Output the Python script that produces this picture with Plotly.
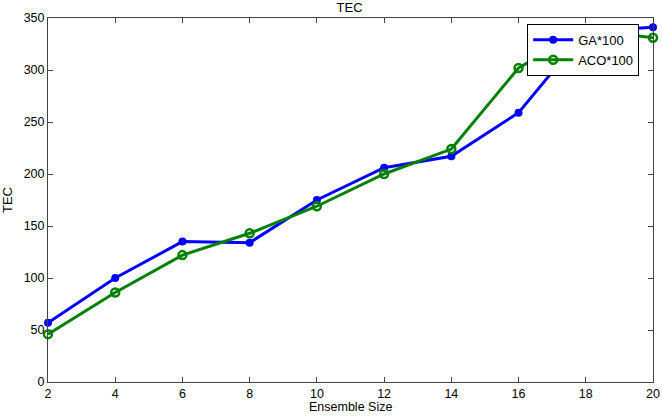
import plotly.graph_objects as go

ensemble_size = [2, 4, 6, 8, 10, 12, 14, 16, 18, 20]
ga_tec = [57, 100, 135, 134, 175, 206, 217, 259, 337, 341]
aco_tec = [46, 86, 122, 143, 169, 200, 224, 302, 339, 331]

fig = go.Figure()
fig.add_trace(go.Scatter(
    x=ensemble_size, y=ga_tec, name="GA*100", mode="lines+markers",
    line=dict(color="#0000ff", width=3),
    marker=dict(symbol="circle", size=8, color="#0000ff"),
    cliponaxis=False,
))
fig.add_trace(go.Scatter(
    x=ensemble_size, y=aco_tec, name="ACO*100", mode="lines+markers",
    line=dict(color="#008000", width=3),
    marker=dict(symbol="circle-open", size=8, color="#008000", line=dict(width=2.5)),
    cliponaxis=False,
))

axis_common = dict(
    showgrid=False, zeroline=False, showline=True, linecolor="#444444", linewidth=1,
    mirror="ticks", ticks="inside", ticklen=5, tickcolor="#444444", automargin=False,
    tickfont=dict(family="Liberation Sans, Arial, sans-serif", size=12.5, color="black"),
)

fig.update_layout(
    width=662, height=416,
    margin=dict(l=48, r=9, t=18, b=34),
    paper_bgcolor="white", plot_bgcolor="white",
    font=dict(family="Liberation Sans, Arial, sans-serif", size=12.5, color="black"),
    title=dict(text="TEC", x=0.528, xanchor="center", y=0.982, yanchor="middle",
               font=dict(size=13)),
    xaxis=dict(range=[2, 20], dtick=2, tick0=2, **axis_common),
    yaxis=dict(range=[0, 350], dtick=50,
               title=dict(text="TEC", standoff=8, font=dict(size=13)),
               **axis_common),
    legend=dict(x=0.792, y=0.984, xanchor="left", yanchor="top",
                bgcolor="white", bordercolor="black", borderwidth=1,
                font=dict(size=13), tracegroupgap=0, itemwidth=40),
    showlegend=True,
)
fig.add_annotation(text="Ensemble Size", xref="paper", yref="paper", x=0.5, y=-0.07,
                   xanchor="center", yanchor="middle", showarrow=False,
                   font=dict(size=12.5, color="black"))

fig.write_html("out.html")
